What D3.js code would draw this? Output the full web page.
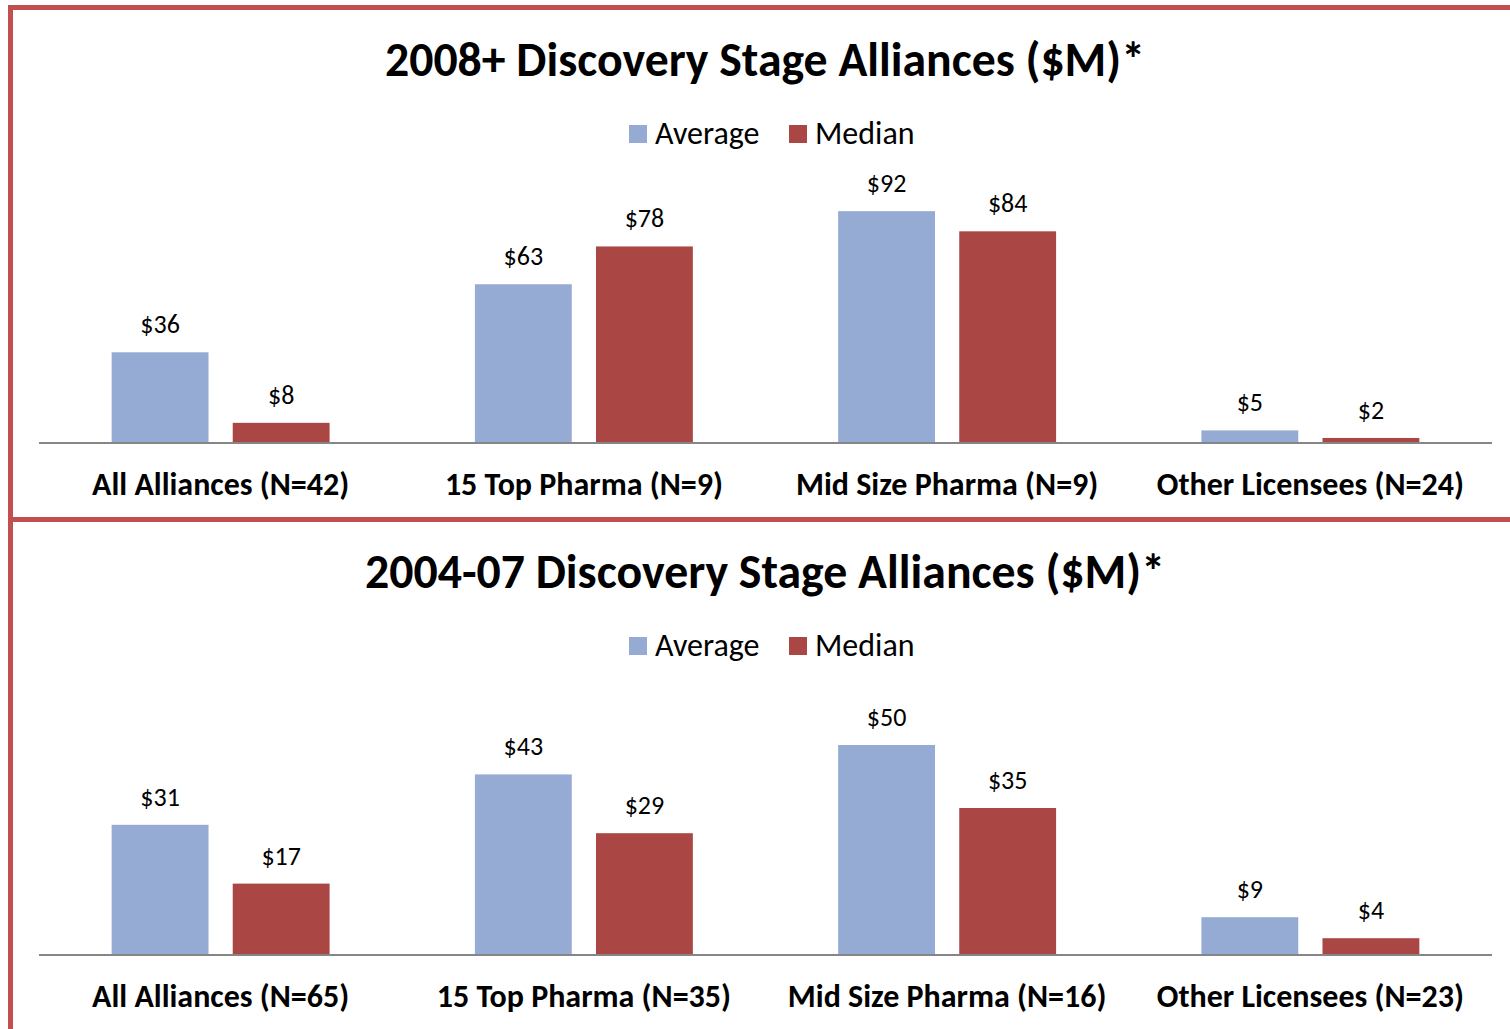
<!DOCTYPE html>
<html>
<head>
<meta charset="utf-8">
<script src="https://cdn.jsdelivr.net/npm/d3@7"></script>
<style>
  html, body { margin: 0; padding: 0; background: #fff; }
  svg { display: block; }
</style>
</head>
<body>
<svg id="chart" width="1510" height="1029"></svg>
<script>
const SERIES = ['Average', 'Median']
const COLORS = ['#95abd3', '#aa4644']

const TITLES = [
  '2008+ Discovery Stage Alliances ($M)*',
  '2004-07 Discovery Stage Alliances ($M)*',
]

const CATS_2008 = ['All Alliances (N=42)', '15 Top Pharma (N=9)', 'Mid Size Pharma (N=9)', 'Other Licensees (N=24)']
const AVG_2008 = [36, 63, 92, 5]
const MED_2008 = [8, 78, 84, 2]

const CATS_2004 = ['All Alliances (N=65)', '15 Top Pharma (N=35)', 'Mid Size Pharma (N=16)', 'Other Licensees (N=23)']
const AVG_2004 = [31, 43, 50, 9]
const MED_2004 = [17, 29, 35, 4]

const Y_MAX = [100, 60]

const FONT = 'Calibri, Carlito, Lato, "Open Sans", sans-serif'
const BORDER = '#c0504d'

const svg = d3.select('#chart')
svg.append('rect').attr('width', 1510).attr('height', 1029).attr('fill', '#fff')

const panels = [
  { title: TITLES[0], cats: CATS_2008, values: [AVG_2008, MED_2008], yMax: Y_MAX[0], titleWidth: 760 },
  { title: TITLES[1], cats: CATS_2004, values: [AVG_2004, MED_2004], yMax: Y_MAX[1], titleWidth: 800 },
]

// squeeze a label to a width when the fallback font runs wide
function fitWidth(sel, maxW) {
  sel.each(function () {
    const w = this.getComputedTextLength()
    if (w > maxW) d3.select(this).attr('textLength', maxW).attr('lengthAdjust', 'spacingAndGlyphs')
  })
}

function drawPanel(g, p) {
  const x0 = d3.scaleBand().domain(p.cats).range([39, 1492])
  const bw = x0.bandwidth()
  const x1 = d3.scaleBand().domain(SERIES).range([bw * 0.2, bw * 0.8]).paddingInner(0.2)
  const y = d3.scaleLinear().domain([0, p.yMax]).range([443, 191])

  g.append('text')
    .attr('x', 765)
    .attr('y', 76)
    .attr('text-anchor', 'middle')
    .attr('font-family', FONT)
    .attr('font-weight', 'bold')
    .attr('font-size', 48)
    .attr('fill', '#000')
    .text(p.title)
    .call(fitWidth, p.titleWidth)

  // legend
  const legendX = [629, 789]
  const leg = g.selectAll('g.legend').data(SERIES).join('g')
    .attr('class', 'legend')
    .attr('transform', (d, i) => `translate(${legendX[i]},125)`)
  leg.append('rect').attr('width', 18).attr('height', 18).attr('fill', (d, i) => COLORS[i])
  leg.append('text')
    .attr('x', 26)
    .attr('y', 19)
    .attr('font-family', FONT)
    .attr('font-size', 32)
    .attr('fill', '#000')
    .text((d) => d)

  const rows = p.cats.map((c, i) => ({ cat: c, vals: SERIES.map((s, j) => ({ s, j, v: p.values[j][i] })) }))

  const groups = g.selectAll('g.cat').data(rows).join('g')
    .attr('class', 'cat')
    .attr('transform', (d) => `translate(${x0(d.cat)},0)`)

  groups.selectAll('rect').data((d) => d.vals).join('rect')
    .attr('x', (d) => x1(d.s))
    .attr('y', (d) => y(d.v))
    .attr('width', x1.bandwidth())
    .attr('height', (d) => y(0) - y(d.v))
    .attr('fill', (d) => COLORS[d.j])

  groups.selectAll('text.val').data((d) => d.vals).join('text')
    .attr('class', 'val')
    .attr('x', (d) => x1(d.s) + x1.bandwidth() / 2)
    .attr('y', (d) => y(d.v) - 19)
    .attr('text-anchor', 'middle')
    .attr('font-family', FONT)
    .attr('font-size', 26)
    .attr('fill', '#000')
    .text((d) => '$' + d.v)

  g.append('line')
    .attr('x1', 39).attr('x2', 1492)
    .attr('y1', y(0)).attr('y2', y(0))
    .attr('stroke', '#868686')
    .attr('stroke-width', 2)

  g.selectAll('text.cat').data(p.cats).join('text')
    .attr('class', 'cat')
    .attr('x', (d) => x0(d) + bw / 2)
    .attr('y', 495)
    .attr('text-anchor', 'middle')
    .attr('font-family', FONT)
    .attr('font-weight', 'bold')
    .attr('font-size', 32)
    .attr('fill', '#000')
    .text((d) => d)
    .call(fitWidth, bw - 40)
}

panels.forEach((p, i) => {
  const g = svg.append('g').attr('transform', `translate(0,${i * 512})`)
  drawPanel(g, p)
})

// red frame
svg.append('line').attr('x1', 8).attr('x2', 1510).attr('y1', 7.5).attr('y2', 7.5)
  .attr('stroke', BORDER).attr('stroke-width', 5)
svg.append('line').attr('x1', 10.5).attr('x2', 10.5).attr('y1', 5).attr('y2', 1029)
  .attr('stroke', BORDER).attr('stroke-width', 5)
svg.append('line').attr('x1', 8).attr('x2', 1510).attr('y1', 519.5).attr('y2', 519.5)
  .attr('stroke', BORDER).attr('stroke-width', 5)
</script>
</body>
</html>
